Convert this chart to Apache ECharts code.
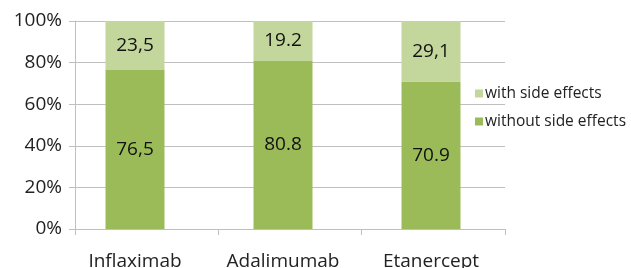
<!DOCTYPE html>
<html><head><meta charset="utf-8">
<script src="https://cdn.jsdelivr.net/npm/echarts@6/dist/echarts.min.js"></script>
<style>html,body{margin:0;padding:0;background:#fff}#c{width:631px;height:268px}</style>
</head><body><div id="c"></div>
<script>
const categories = ['Inflaximab', 'Adalimumab', 'Etanercept'];
const withoutSide = [76.5, 80.8, 70.9];
const withSide = [23.5, 19.2, 29.1];
const withoutLabels = ['76,5', '80.8', '70.9'];
const withLabels = ['23,5', '19.2', '29,1'];
const yTicks = [0, 20, 40, 60, 80, 100];

const chart = echarts.init(document.getElementById('c'));
const font = 'Open Sans';
const grey = '#bfbfbf';
chart.setOption({
  animation: false,
  textStyle: { fontFamily: font },
  grid: [
    { left: 75, right: 126, top: 21, bottom: 39, outerBoundsMode: 'none', containLabel: false },
    { left: 61, right: 126, top: 21, bottom: 39, outerBoundsMode: 'none', containLabel: false }
  ],
  legend: {
    orient: 'vertical', left: 470, top: 80,
    itemWidth: 8, itemHeight: 8, itemGap: 11, icon: 'rect',
    data: ['with side effects', 'without side effects'],
    textStyle: { fontFamily: font, fontSize: 15.5, color: '#222', lineHeight: 17, padding: [0, 0, 0, -3] }
  },
  xAxis: [
    { type: 'category', gridIndex: 0, data: categories,
      axisLine: { lineStyle: { color: grey, width: 1 } },
      axisTick: { show: true, length: 6, lineStyle: { color: grey } },
      axisLabel: { show: false } },
    { type: 'category', gridIndex: 1, data: categories,
      axisLine: { show: false }, axisTick: { show: false },
      axisLabel: { fontFamily: font, fontSize: 19, color: '#222', margin: 23 } }
  ],
  yAxis: [
    { type: 'value', gridIndex: 0, min: 0, max: 100, interval: 20,
      axisLine: { show: true, lineStyle: { color: grey } },
      axisTick: { show: true, length: 6, lineStyle: { color: grey } },
      splitLine: { lineStyle: { color: grey } },
      axisLabel: { fontFamily: font, fontSize: 19, color: '#222', margin: 13,
        formatter: v => yTicks.includes(v) ? v + '%' : '' } },
    { type: 'value', gridIndex: 1, min: 0, max: 100, show: false }
  ],
  series: [
    { name: 'without side effects', type: 'bar', stack: 's', xAxisIndex: 1, yAxisIndex: 1,
      data: withoutSide, barWidth: 59, itemStyle: { color: '#9bbb59' },
      label: { show: true, position: 'inside', fontFamily: font, fontSize: 19, color: '#111',
        formatter: p => withoutLabels[p.dataIndex] } },
    { name: 'with side effects', type: 'bar', stack: 's', xAxisIndex: 1, yAxisIndex: 1,
      data: withSide, barWidth: 59, itemStyle: { color: '#c3d69b' },
      label: { show: true, position: 'inside', fontFamily: font, fontSize: 19, color: '#111',
        formatter: p => withLabels[p.dataIndex] } }
  ]
});
</script></body></html>
